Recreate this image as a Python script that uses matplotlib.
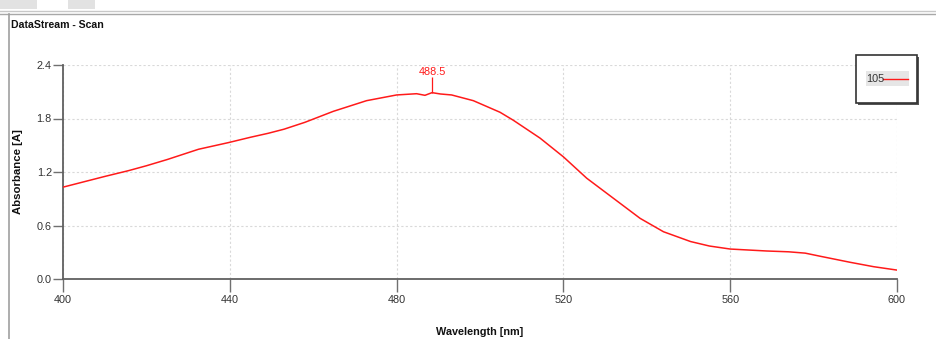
import matplotlib
matplotlib.use('Agg')
import matplotlib.pyplot as plt
from matplotlib.patches import Rectangle
from matplotlib.lines import Line2D

plt.rcParams['font.family'] = ['Liberation Sans', 'DejaVu Sans']

# scan data
wavelength = [400, 405, 410, 415.7, 420, 425, 432.5, 439.7, 445, 449.2, 453, 458,
              464.8, 472.8, 480, 484.8, 486.8, 488.5, 490.5, 493.2, 498.4, 504.8,
              508, 514.4, 520, 525.6, 532, 538.4, 544, 550.5, 555, 560, 568.8,
              574, 578, 581.6, 588.8, 594.4, 600]
absorbance = [1.03, 1.09, 1.15, 1.215, 1.27, 1.34, 1.455, 1.53, 1.59, 1.634, 1.68, 1.757,
              1.88, 2.0, 2.064, 2.078, 2.06, 2.09, 2.075, 2.064, 2.0, 1.87,
              1.78, 1.58, 1.37, 1.13, 0.905, 0.68, 0.53, 0.42, 0.37, 0.336, 0.314,
              0.305, 0.29, 0.255, 0.187, 0.138, 0.10]
xticks = [400, 440, 480, 520, 560, 600]
yticks = [0.0, 0.6, 1.2, 1.8, 2.4]
peak_wl = 488.5
peak_abs = 2.09
series_name = '105'

W, H = 936, 339
fig = plt.figure(figsize=(W / 100, H / 100), dpi=100)
fig.patch.set_facecolor('white')

# window frame bits
def fx(px):
    return px / W
def fy(py):
    return 1 - py / H

fig.add_artist(Rectangle((0, fy(9)), fx(37), 9 / H, color='#e2e2e2', lw=0))
fig.add_artist(Rectangle((fx(68), fy(9)), fx(27), 9 / H, color='#e2e2e2', lw=0))
fig.add_artist(Line2D([0, 1], [fy(11), fy(11)], color='#c8c8c8', lw=1))
fig.add_artist(Line2D([0, 1], [fy(13.5), fy(13.5)], color='#a8a8a8', lw=1))
fig.add_artist(Line2D([fx(8.5), fx(8.5)], [fy(14), 0], color='#a0a0a0', lw=1.2))
fig.text(fx(11), fy(25), 'DataStream - Scan', fontsize=7.6, fontweight='bold',
         va='center', ha='left', color='#111111')

ax = fig.add_axes([fx(63), fy(279), fx(897 - 63), (279 - 65) / H])
ax.plot(wavelength, absorbance, color='#ff1a1a', lw=1.1, label=series_name, zorder=3)

ax.set_xlim(400, 600)
ax.set_ylim(0, 2.4)
ax.set_xticks(xticks)
ax.set_yticks(yticks)
ax.set_yticklabels([f'{v:.1f}' for v in yticks])

for s in ['top', 'right']:
    ax.spines[s].set_visible(False)
for s in ['left', 'bottom']:
    ax.spines[s].set_color('#606060')
    ax.spines[s].set_linewidth(1.3)

ax.tick_params(axis='x', direction='out', length=9.5, width=1, color='#707070',
               labelsize=7.8, labelcolor='#333333', pad=2)
ax.tick_params(axis='y', direction='out', length=7, width=1, color='#707070',
               labelsize=7.8, labelcolor='#333333', pad=1)

ax.grid(True, color='#d9d9d9', linestyle=(0, (2, 2)), lw=0.8)
ax.set_axisbelow(True)

# peak marker
ax.vlines(peak_wl, peak_abs, peak_abs + 0.17, color='#ff1a1a', lw=0.9, zorder=3)
ax.text(peak_wl, peak_abs + 0.17, f'{peak_wl}', color='#ff1a1a', fontsize=7.8,
        ha='center', va='bottom')

ax.set_xlabel('Wavelength [nm]', fontsize=7.8, fontweight='bold', labelpad=16,
              color='#111111')
ax.set_ylabel('Absorbance [A]', fontsize=8.2, fontweight='bold', labelpad=10,
              color='#111111')

# legend box
fig.add_artist(Rectangle((fx(858), fy(105)), fx(61), 48 / H, facecolor='#555555',
                         lw=0, zorder=4))
fig.add_artist(Rectangle((fx(856), fy(103)), fx(61), 48 / H, facecolor='white',
                         edgecolor='#333333', lw=1.2, zorder=5))
fig.add_artist(Rectangle((fx(866), fy(86)), fx(43), 15 / H, facecolor='#e6e6e6',
                         lw=0, zorder=6))
fig.text(fx(866), fy(79), series_name, fontsize=7.8, color='#333333',
         va='center', ha='left', zorder=7)
fig.add_artist(Line2D([fx(883), fx(908)], [fy(79), fy(79)], color='#ff1a1a', lw=1,
                      zorder=7))

fig.savefig('out.png', dpi=100)
